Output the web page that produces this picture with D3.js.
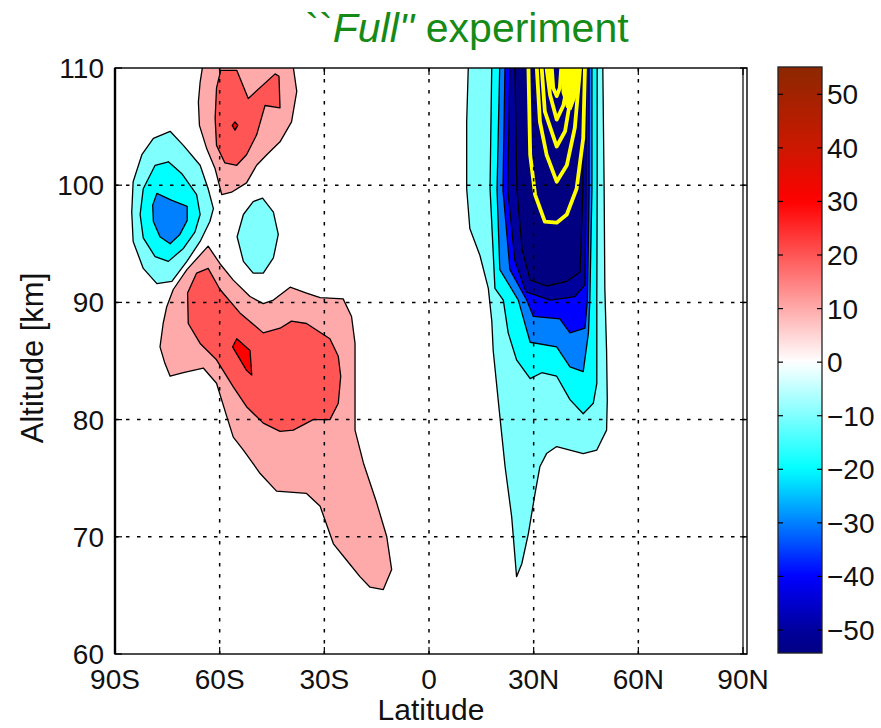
<!DOCTYPE html>
<html><head><meta charset="utf-8">
<script src="https://cdn.jsdelivr.net/npm/d3@7"></script>
<style>body{margin:0;background:#fff} text{font-family:"Liberation Sans",Arial,Helvetica,sans-serif;}</style>
</head><body><svg id="c" width="881" height="728"></svg>
<script>
// ---------- axis / colour data ----------
const latTicks = [-90, -60, -30, 0, 30, 60, 90];
const latTickLabels = ["90S", "60S", "30S", "0", "30N", "60N", "90N"];
const altTicks = [60, 70, 80, 90, 100, 110];
const latGrid = [-60, -30, 0, 30, 60];
const altGrid = [70, 80, 90, 100];
const cbarTicks = [-50, -40, -30, -20, -10, 0, 10, 20, 30, 40, 50];
const cbarRange = [-54.3, 55.1];
const colorStops = [-55, -50, -40, -30, -20, 0, 30, 40, 55];
const colorValues = ["#000080", "#00009c", "#0000ff", "#0080ff", "#00ffff", "#ffffff", "#ff0000", "#cc1800", "#8c2800"];

// ---------- contour outlines [lat, alt] ----------
const southUpper10 = [[-64.7,110.5],[-65.6,108.8],[-66.1,107.1],[-65.8,105.1],[-63.7,103.1],[-61.3,101.4],[-59.4,99.2],[-56.6,99.4],[-52.3,100.2],[-49.4,101.7],[-46.5,102.6],[-42.7,103.7],[-39.4,105.4],[-37.9,108.0],[-39.1,110.5]];
const southUpper20 = [[-59.7,109.8],[-55.1,109.8],[-51.8,107.4],[-44.1,109.5],[-43.0,109.3],[-42.7,106.6],[-47.0,106.8],[-49.4,104.3],[-52.3,102.6],[-55.1,101.7],[-58.5,101.9],[-60.9,103.4],[-61.3,105.7],[-60.9,108.3]];
const southUpper30 = [[-56.4,105.1],[-55.6,105.4],[-54.8,105.1],[-55.6,104.7]];
const southLower10 = [[-63.3,94.8],[-59.9,93.3],[-56.1,91.9],[-51.3,90.5],[-47.5,89.9],[-44.6,90.2],[-39.8,91.3],[-35.1,90.8],[-31.2,90.4],[-24.6,90.3],[-22.2,88.8],[-21.2,86.5],[-21.2,83.7],[-21.2,79.1],[-18.8,76.3],[-15.0,72.9],[-12.1,70.0],[-10.7,67.2],[-13.1,65.5],[-16.9,65.7],[-19.8,66.6],[-23.6,68.0],[-27.4,69.4],[-31.2,72.6],[-35.1,73.7],[-43.7,73.9],[-48.4,75.4],[-53.2,77.4],[-56.1,78.5],[-58.0,80.3],[-60.9,83.1],[-64.7,84.4],[-70.4,84.0],[-74.2,83.7],[-75.7,84.8],[-77.1,86.2],[-76.2,88.2],[-75.2,89.6],[-73.3,91.1],[-69.4,92.8]];
const southLower20 = [[-63.3,92.9],[-59.9,91.1],[-54.2,89.1],[-47.5,87.4],[-42.7,87.8],[-39.4,88.4],[-35.1,88.2],[-28.4,86.9],[-26.0,85.4],[-25.3,83.7],[-26.0,81.4],[-28.4,80.0],[-33.2,80.0],[-38.9,79.1],[-42.7,79.0],[-47.5,79.7],[-52.3,81.1],[-56.1,82.8],[-60.9,85.1],[-65.6,86.5],[-69.0,88.2],[-69.2,90.8],[-66.6,92.5]];
const southLower30 = [[-56.3,86.2],[-55.1,86.9],[-51.3,85.9],[-50.8,83.8],[-52.3,84.2]];
const southPole10 = [[-74.2,104.6],[-70.4,103.4],[-65.6,101.7],[-63.3,99.7],[-61.8,98.0],[-62.8,96.9],[-65.6,95.2],[-69.4,93.5],[-73.7,91.8],[-78.0,91.6],[-81.9,92.9],[-84.8,95.2],[-85.2,97.7],[-84.8,100.3],[-82.3,102.6],[-79.0,104.0]];
const southPole20 = [[-74.7,102.0],[-70.9,101.0],[-66.6,99.2],[-65.6,97.5],[-67.1,96.0],[-70.4,94.6],[-74.7,93.5],[-78.5,93.9],[-81.9,95.5],[-82.8,97.5],[-81.9,99.7],[-78.5,101.7]];
const southPole30 = [[-78.0,99.3],[-73.7,98.7],[-69.3,98.2],[-69.3,97.0],[-71.4,95.8],[-74.2,95.0],[-77.1,95.6],[-79.0,96.9],[-79.2,98.3]];
const southMid10 = [[-47.7,98.9],[-44.6,97.7],[-43.2,95.8],[-44.6,93.8],[-47.5,92.5],[-50.4,92.5],[-53.2,93.5],[-55.0,95.6],[-53.2,97.5],[-50.4,98.6]];
const north10 = [[11.3,110.5],[10.8,105.4],[10.8,99.7],[11.7,96.3],[14.6,94.0],[17.0,91.2],[18.0,88.4],[18.4,85.9],[20.3,80.3],[21.8,76.0],[23.7,71.7],[25.1,66.6],[26.6,67.7],[28.5,70.3],[30.4,73.7],[31.8,76.0],[33.7,77.1],[36.6,77.7],[40.4,77.4],[44.2,77.1],[48.1,77.4],[50.9,79.1],[51.1,81.7],[50.9,85.9],[50.4,91.2],[50.2,99.7],[49.8,110.5]];
const north20 = [[18.0,110.5],[17.5,99.7],[18.9,91.2],[21.3,90.2],[22.7,87.4],[25.1,85.1],[29.0,83.5],[32.3,84.0],[36.6,83.7],[40.4,81.7],[44.2,80.5],[47.1,81.4],[48.1,83.1],[48.1,90.2],[48.2,99.6],[48.2,110.5]];
const north30 = [[20.3,110.5],[19.5,99.6],[20.3,92.8],[25.6,90.2],[29.0,86.6],[36.6,86.2],[40.4,84.5],[44.2,84.1],[45.7,87.4],[46.1,90.2],[46.7,99.6],[46.7,110.5]];
const north40 = [[21.8,110.5],[21.2,99.6],[23.2,92.8],[28.0,90.2],[29.9,88.8],[37.5,88.6],[40.4,87.4],[44.7,87.8],[45.4,90.2],[45.9,99.6],[45.9,110.5]];
const north50 = [[23.2,110.5],[22.6,99.6],[24.6,93.6],[27.8,90.9],[34.7,90.2],[41.8,90.5],[44.7,91.5],[45.0,99.6],[45.0,110.5]];
const north60 = [[24.6,110.5],[25.2,99.6],[26.7,94.5],[29.0,91.9],[33.7,91.4],[39.5,91.8],[43.3,92.6],[44.1,99.6],[44.1,110.5]];
// yellow overlay contours (open lines)
const yellow1 = [[28.5,110],[29.0,102.6],[30.4,99.2],[33.2,96.9],[36.6,96.8],[39.5,97.5],[42.3,99.7],[44.2,104.0],[44.7,110]];
const yellow2 = [[30.9,110],[31.8,105.4],[33.7,102.6],[36.6,100.3],[39.5,101.7],[41.8,104.9],[43.3,110]];
const yellow3 = [[32.3,110],[33.2,106.3],[36.6,103.3],[39.0,104.6],[40.4,107.1],[41.4,110]];
const yellow4 = [[33.7,110],[34.7,107.7],[36.6,105.6],[38.5,106.8],[39.5,108.3],[39.9,110]];
const yellow5 = [[35.2,110],[35.6,108.3],[36.6,107.6],[37.5,108.3],[37.9,110]];
// solid yellow patches near the top where the yellow contours merge
const yellowPatchLeft = [[33.9,110],[35.4,110],[35.5,108.4],[34.6,107.9]];
const yellowPatchRight = [[37.9,110],[43.0,110],[42.3,107.6],[40.8,106.4],[39.3,106.6],[38.0,107.9]];

// ---------- build tables from the arrays ----------
const filled = [
  {level: 10, pts: southUpper10}, {level: 20, pts: southUpper20}, {level: 30, pts: southUpper30},
  {level: 10, pts: southLower10}, {level: 20, pts: southLower20}, {level: 30, pts: southLower30},
  {level: -10, pts: southPole10}, {level: -20, pts: southPole20}, {level: -30, pts: southPole30},
  {level: -10, pts: southMid10},
  {level: -10, pts: north10}, {level: -20, pts: north20}, {level: -30, pts: north30},
  {level: -40, pts: north40}, {level: -50, pts: north50}, {level: -60, pts: north60}
];
const yellowLines = [yellow1, yellow2, yellow3, yellow4, yellow5];
const yellowPatches = [yellowPatchLeft, yellowPatchRight];

// ---------- layout ----------
const svg = d3.select("#c");
const x = d3.scaleLinear().domain([-90, 90]).range([115, 743]);
const y = d3.scaleLinear().domain([60, 110]).range([654, 68]);
const boxRight = x(90) + 4;
const color = d3.scaleLinear().domain(colorStops).range(colorValues).clamp(true);

svg.append("defs").append("clipPath").attr("id", "plotclip")
  .append("rect").attr("x", x(-90)).attr("y", y(110)).attr("width", x(90) - x(-90)).attr("height", y(60) - y(110));

const line = d3.line().x(d => x(d[0])).y(d => y(d[1]));
const plot = svg.append("g").attr("clip-path", "url(#plotclip)");

plot.selectAll("path.fill").data(filled).join("path")
  .attr("class", "fill")
  .attr("d", d => line(d.pts) + "Z")
  .attr("fill", d => color(d.level))
  .attr("stroke", "#000").attr("stroke-width", 1.3).attr("stroke-linejoin", "round");

plot.selectAll("path.yp").data(yellowPatches).join("path").attr("class", "yp")
  .attr("d", d => line(d) + "Z").attr("fill", "#ffff00");
plot.selectAll("path.yel").data(yellowLines).join("path")
  .attr("class", "yel")
  .attr("d", d => line(d))
  .attr("fill", "none").attr("stroke", "#ffff00").attr("stroke-width", 3.8).attr("stroke-linejoin", "round");

// grid
const grid = svg.append("g").attr("stroke", "#000").attr("stroke-width", 1.5).attr("stroke-dasharray", "3.5,7.5");
grid.selectAll("line.v").data(latGrid).join("line").attr("class", "v")
  .attr("x1", d => x(d)).attr("x2", d => x(d)).attr("y1", y(110)).attr("y2", y(60));
grid.selectAll("line.h").data(altGrid).join("line").attr("class", "h")
  .attr("x1", x(-90)).attr("x2", boxRight).attr("y1", d => y(d)).attr("y2", d => y(d));

// frame
const frame = svg.append("g").attr("stroke", "#000").attr("fill", "none");
frame.append("rect").attr("x", x(-90)).attr("y", y(110)).attr("width", boxRight - x(-90)).attr("height", y(60) - y(110)).attr("stroke-width", 1.4);
frame.append("line").attr("x1", x(90)).attr("x2", x(90)).attr("y1", y(110)).attr("y2", y(60)).attr("stroke-width", 1.2);
frame.append("line").attr("x1", x(-90)).attr("x2", x(-90)).attr("y1", y(110)).attr("y2", y(60)).attr("stroke-width", 2.4);

// ticks
const tl = 7;
const ticks = svg.append("g").attr("stroke", "#000").attr("stroke-width", 1.2);
latTicks.forEach(t => {
  ticks.append("line").attr("x1", x(t)).attr("x2", x(t)).attr("y1", y(60)).attr("y2", y(60) - tl);
  ticks.append("line").attr("x1", x(t)).attr("x2", x(t)).attr("y1", y(110)).attr("y2", y(110) + tl);
});
altTicks.forEach(t => {
  ticks.append("line").attr("x1", x(-90)).attr("x2", x(-90) + tl).attr("y1", y(t)).attr("y2", y(t));
  ticks.append("line").attr("x1", boxRight).attr("x2", boxRight - tl).attr("y1", y(t)).attr("y2", y(t));
});

// tick labels
const fs = 28;
svg.append("g").selectAll("text").data(latTicks).join("text")
  .attr("x", d => x(d)).attr("y", 689).attr("text-anchor", "middle")
  .attr("font-size", fs).attr("fill", "#111").text((d, i) => latTickLabels[i]);
svg.append("g").selectAll("text").data(altTicks).join("text")
  .attr("x", 104).attr("y", d => y(d) + 10).attr("text-anchor", "end")
  .attr("font-size", fs).attr("fill", "#111").text(d => d);

svg.append("text").attr("x", 431).attr("y", 720).attr("text-anchor", "middle")
  .attr("font-size", 30).attr("fill", "#111").text("Latitude");
svg.append("text").attr("transform", "translate(43,358) rotate(-90)").attr("text-anchor", "middle")
  .attr("font-size", 31).attr("fill", "#111").text("Altitude [km]");

// title
const title = svg.append("text").attr("x", 467).attr("y", 42).attr("text-anchor", "middle")
  .attr("font-size", 41).attr("fill", "#168a16");
title.append("tspan").text("``");
title.append("tspan").attr("font-style", "italic").text("Full''");
title.append("tspan").text(" experiment");

// colorbar
const cbx = 778, cbw = 44;
const cy = d3.scaleLinear().domain([-50, 50]).range([630, 94.3]);
const grad = svg.select("defs").append("linearGradient").attr("id", "cbg")
  .attr("x1", 0).attr("x2", 0).attr("y1", 1).attr("y2", 0);
const nStops = 60;
d3.range(nStops + 1).forEach(i => {
  const v = cbarRange[0] + (cbarRange[1] - cbarRange[0]) * i / nStops;
  grad.append("stop").attr("offset", i / nStops).attr("stop-color", color(v));
});
svg.append("rect").attr("x", cbx).attr("y", cy(cbarRange[1])).attr("width", cbw)
  .attr("height", cy(cbarRange[0]) - cy(cbarRange[1]))
  .attr("fill", "url(#cbg)").attr("stroke", "#222").attr("stroke-width", 1.3);
const cbt = svg.append("g").attr("stroke", "#000").attr("stroke-width", 1.2);
cbarTicks.forEach(t => {
  cbt.append("line").attr("x1", cbx).attr("x2", cbx + 5).attr("y1", cy(t)).attr("y2", cy(t));
  cbt.append("line").attr("x1", cbx + cbw).attr("x2", cbx + cbw - 5).attr("y1", cy(t)).attr("y2", cy(t));
});
const fmt = d3.format("");
svg.append("g").selectAll("text").data(cbarTicks).join("text")
  .attr("x", 827).attr("y", d => cy(d) + 10).attr("font-size", fs).attr("fill", "#111")
  .text(d => fmt(d));
</script>
</body></html>
